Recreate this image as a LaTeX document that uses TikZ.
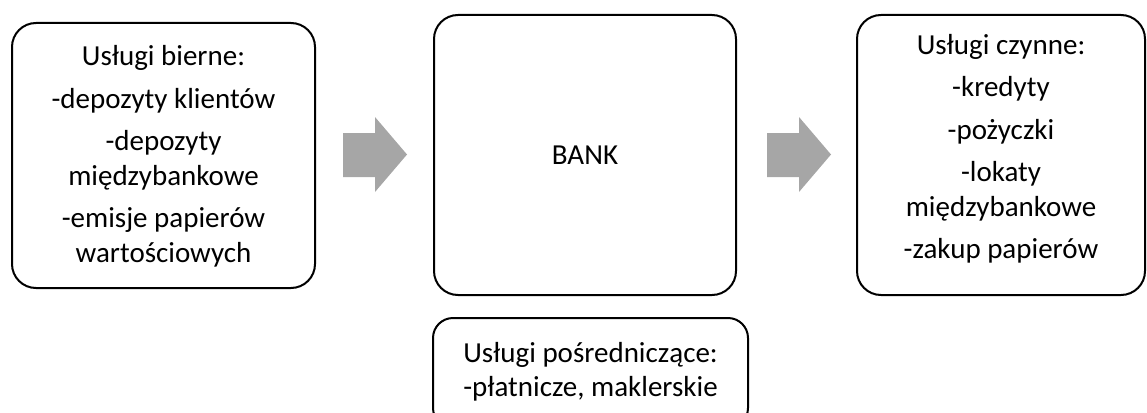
\documentclass[tikz,border=0pt]{standalone}
\usepackage{fontspec}
\setmainfont{Carlito}
\definecolor{arrowgray}{HTML}{A6A6A6}
\begin{document}
\begin{tikzpicture}[x=1pt,y=-1pt,
  box/.style={draw=black, line width=2pt, rounded corners=24pt, inner sep=0pt},
  txt/.style={align=center, inner sep=0pt, font=\fontsize{29}{34.5}\selectfont},
  arr/.style={fill=arrowgray, draw=none}]
\useasboundingbox (0,0) rectangle (1147,412);
\clip (0,0) rectangle (1147,412);
\node[box, minimum width=303pt, minimum height=265pt] (bierne) at (163.5,155.5) {};
\node[txt] (bierneTxt) at ([yshift=-1pt]bierne.center)
  {Usługi bierne:\\[8pt] -depozyty klientów\\[8pt] -depozyty\\ międzybankowe\\[8pt] -emisje papierów\\ wartościowych};
\node[box, minimum width=302pt, minimum height=280pt] (bank) at (585,155) {};
\node[txt] (bankTxt) at (bank.center) {BANK};
\node[box, minimum width=288pt, minimum height=280pt] (czynne) at (1001,155) {};
\node[txt] (czynneTxt) at ([yshift=6pt]czynne.center)
  {Usługi czynne:\\[8pt] -kredyty\\[8pt] -pożyczki\\[8pt] -lokaty\\ międzybankowe\\[8pt] -zakup papierów};
\node[box, rounded corners=20pt, minimum width=315pt, minimum height=110pt, anchor=north] (posr) at (590.5,317) {};
\node[txt] (posrTxt) at ([yshift=1pt]posr.center) {Usługi pośredniczące:\\ -płatnicze, maklerskie};
\fill[arr] (343,133) -- (375,133) -- (375,117) -- (407,154.5) -- (375,192) -- (375,177) -- (343,177) -- cycle;
\fill[arr] (767,133) -- (799,133) -- (799,117) -- (831,154.5) -- (799,192) -- (799,177) -- (767,177) -- cycle;
\end{tikzpicture}
\end{document}
